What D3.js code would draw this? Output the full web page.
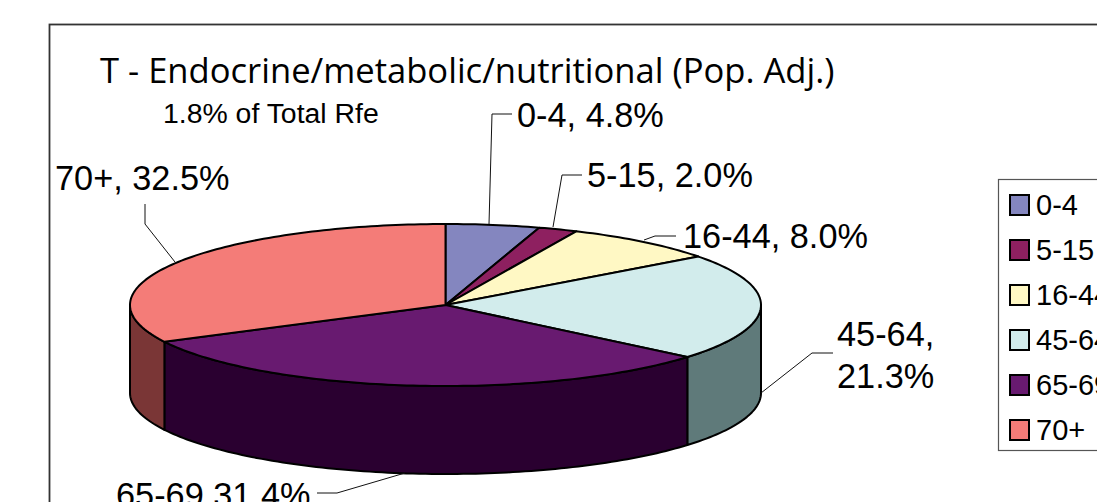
<!DOCTYPE html>
<html lang="en">
<head>
  <meta charset="UTF-8">
  <title>T - Endocrine/metabolic/nutritional (Pop. Adj.)</title>
  <script src="https://d3js.org/d3.v7.min.js"></script>
  <style>
    html, body { margin: 0; padding: 0; background: #fff; overflow: hidden; }
    svg { display: block; }
    text { font-family: "Liberation Sans", Arial, sans-serif; fill: #000; }
    .title { font-family: "Open Sans", sans-serif; font-size: 34.6px; }
    .sub { font-size: 28.4px; }
    .lab { font-size: 34.3px; }
    .leg { font-size: 29px; }
    .leader { fill: none; stroke: #111; stroke-width: 1; }
    .slice { stroke: #000; stroke-width: 2; stroke-linejoin: round; }
  </style>
</head>
<body>
  <svg width="1097" height="502"></svg>
  <script>
    const categories = ["0-4", "5-15", "16-44", "45-64", "65-69", "70+"];
    const shares = [4.8, 2.0, 8.0, 21.3, 31.4, 32.5];
    const topColors = ["#8486bf", "#8e2060", "#fff8c4", "#d2ecec", "#681a70", "#f47c78"];
    const wallColors = ["#42435f", "#471030", "#7f7c62", "#5f7a7a", "#2a0030", "#7a3636"];

    // label text lines, anchor and leader, in page pixels
    const labelLines = [["0-4, 4.8%"], ["5-15, 2.0%"], ["16-44, 8.0%"], ["45-64,", "21.3%"], ["65-69 31.4%"], ["70+, 32.5%"]];
    const labelPos = [[517, 127], [587, 187], [683, 248], [837, 346], [116, 507], [55, 190]];
    const leaders = [
      [[489, 224], [492, 114], [512, 114]],
      [[553, 227], [562, 175], [582, 175]],
      [[644, 240], [655, 236], [676, 236]],
      [[761, 393], [812, 353], [833, 353]],
      [[405, 473], [337, 493], [317, 493]],
      [[175, 262], [145, 224], [145, 204]]
    ];

    const svg = d3.select("svg");

    const px = d3.scaleLinear().domain([-1, 1]).range([130, 761]);
    const py = d3.scaleLinear().domain([-1, 1]).range([224, 386]);
    const depth = 88;

    const arcs = d3.pie().sort(null).value(d => d)(shares);

    function rim(a0, a1, dy) {
      const n = Math.max(2, Math.ceil((a1 - a0) / 0.02));
      return d3.range(n + 1).map(i => {
        const a = a0 + (a1 - a0) * i / n;
        return [px(Math.sin(a)), py(-Math.cos(a)) + dy];
      });
    }

    const line = d3.line();

    // frame runs off the right and bottom of the picture
    svg.append("rect")
      .attr("x", 49.5).attr("y", 24.5).attr("width", 1200).attr("height", 700)
      .attr("fill", "#fff").attr("stroke", "#333").attr("stroke-width", 1.8);

    // side walls, only the front half shows
    arcs.forEach((d, i) => {
      const a0 = Math.max(d.startAngle, Math.PI / 2);
      const a1 = Math.min(d.endAngle, Math.PI * 1.5);
      if (a1 <= a0) return;
      const pts = rim(a0, a1, 0).concat(rim(a0, a1, depth).reverse());
      svg.append("path")
        .attr("class", "slice")
        .attr("d", line(pts) + "Z")
        .attr("fill", wallColors[i]);
    });

    // top face
    arcs.forEach((d, i) => {
      const pts = [[px(0), py(0)]].concat(rim(d.startAngle, d.endAngle, 0));
      svg.append("path")
        .attr("class", "slice")
        .attr("d", line(pts) + "Z")
        .attr("fill", topColors[i]);
    });

    svg.selectAll(".leader")
      .data(leaders)
      .join("path")
      .attr("class", "leader")
      .attr("d", d => line(d));

    labelLines.forEach((lines, i) => {
      lines.forEach((t, j) => {
        svg.append("text")
          .attr("class", "lab")
          .attr("x", labelPos[i][0])
          .attr("y", labelPos[i][1] + j * 42)
          .text(t);
      });
    });

    svg.append("text").attr("class", "title").attr("x", 100).attr("y", 82.5)
      .text("T - Endocrine/metabolic/nutritional (Pop. Adj.)");
    svg.append("text").attr("class", "sub").attr("x", 163).attr("y", 122.5)
      .text("1.8% of Total Rfe");

    // legend, also cut by the right edge
    svg.append("rect")
      .attr("x", 998.5).attr("y", 179.5).attr("width", 200).attr("height", 271)
      .attr("fill", "#fff").attr("stroke", "#555").attr("stroke-width", 1.2);

    const legY = d3.scalePoint().domain(categories).range([205, 430]);
    const leg = svg.selectAll(".legrow")
      .data(categories)
      .join("g")
      .attr("class", "legrow")
      .attr("transform", d => `translate(0,${legY(d)})`);
    leg.append("rect")
      .attr("x", 1010).attr("y", -10).attr("width", 19).attr("height", 20)
      .attr("fill", (d, i) => topColors[i])
      .attr("stroke", "#000").attr("stroke-width", 2);
    leg.append("text")
      .attr("class", "leg")
      .attr("x", 1036).attr("y", 9.5)
      .text(d => d);
  </script>
</body>
</html>
